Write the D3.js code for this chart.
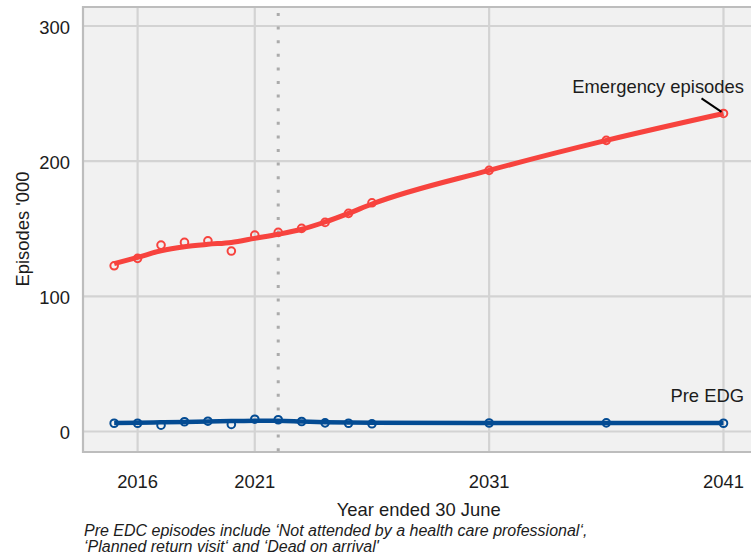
<!DOCTYPE html>
<html>
<head>
<meta charset="utf-8">
<script src="https://cdn.jsdelivr.net/npm/d3@7"></script>
<style>
  html, body { margin: 0; padding: 0; background: #ffffff; }
  svg { display: block; font-family: "Liberation Sans", Arial, Helvetica, sans-serif; }
</style>
</head>
<body>
<svg id="chart" width="751" height="559"></svg>
<script>
// ---- data ----
const years = [2015, 2016, 2017, 2018, 2019, 2020, 2021, 2022, 2023, 2024, 2025, 2026, 2031, 2036, 2041];
const emergencyPoints = [122.6, 128.1, 137.9, 139.9, 141.1, 133.5, 145.3, 147.3, 150.3, 154.7, 161.4, 169.2, 193.2, 215.4, 235.3];
const emergencyTrend  = [124.2, 128.8, 133.7, 136.7, 138.5, 139.9, 142.9, 145.9, 149.6, 155.0, 161.4, 168.3, 193.2, 215.4, 235.3];
const preEdgPoints = [6.1, 6.1, 4.7, 7.2, 7.6, 5.2, 9.1, 8.7, 7.4, 6.4, 6.1, 5.7, 6.3, 6.4, 6.1];
const preEdgTrend  = [6.3, 6.5, 6.8, 7.1, 7.4, 7.7, 8.0, 7.9, 7.4, 6.9, 6.6, 6.4, 6.2, 6.2, 6.2];
const xTicks = [2016, 2021, 2031, 2041];
const yTicks = [0, 100, 200, 300];
const cutoverYear = 2022;
const seriesLabels = ["Emergency episodes", "Pre EDG"];
const xTitle = "Year ended 30 June";
const yTitle = "Episodes '000";
const footnote = ["Pre EDC episodes include \u2018Not attended by a health care professional\u2018,",
                  "\u2018Planned return visit\u2018 and \u2018Dead on arrival'"];

// ---- layout ----
const svg = d3.select("#chart");
const x = d3.scaleLinear().domain([2016, 2041]).range([137.6, 723.5]);
const y = d3.scaleLinear().domain([0, 300]).range([431.5, 26]);
const panel = { left: 83, top: 7, right: 770, bottom: 452 };

const red = "#F7433E";
const blue = "#034B93";
const textCol = "#1c1c1c";
const fs = 18.4;

// panel background
svg.append("rect")
  .attr("x", panel.left).attr("y", panel.top)
  .attr("width", panel.right - panel.left).attr("height", panel.bottom - panel.top)
  .attr("fill", "#F1F1F1");

// gridlines
const grid = svg.append("g");
grid.selectAll("line.h").data(yTicks).join("line")
  .attr("x1", panel.left).attr("x2", panel.right)
  .attr("y1", d => y(d)).attr("y2", d => y(d))
  .attr("stroke", "#D3D3D3").attr("stroke-width", 2.2);
grid.selectAll("line.v").data(xTicks).join("line")
  .attr("y1", panel.top).attr("y2", panel.bottom)
  .attr("x1", d => x(d)).attr("x2", d => x(d))
  .attr("stroke", "#D3D3D3").attr("stroke-width", 2.2);

// panel border (left, top, bottom)
svg.append("path")
  .attr("d", `M${panel.right},${panel.top}H${panel.left}V${panel.bottom}H${panel.right}`)
  .attr("fill", "none").attr("stroke", "#BDBDBD").attr("stroke-width", 2.2);

// cutover dotted line
svg.append("line")
  .attr("x1", x(cutoverYear)).attr("x2", x(cutoverYear))
  .attr("y1", panel.top + 6).attr("y2", panel.bottom)
  .attr("stroke", "#ABABAB").attr("stroke-width", 3)
  .attr("stroke-dasharray", "3,10.6");

// lines
const line = d3.line().x(d => x(d[0])).y(d => y(d[1])).curve(d3.curveMonotoneX);
svg.append("path").datum(years.map((yr, i) => [yr, preEdgTrend[i]]))
  .attr("d", line).attr("fill", "none").attr("stroke", blue).attr("stroke-width", 4.5);
svg.append("path").datum(years.map((yr, i) => [yr, emergencyTrend[i]]))
  .attr("d", line).attr("fill", "none").attr("stroke", red).attr("stroke-width", 5);

// points
svg.append("g").selectAll("circle").data(years.map((yr, i) => [yr, preEdgPoints[i]])).join("circle")
  .attr("cx", d => x(d[0])).attr("cy", d => y(d[1])).attr("r", 3.8)
  .attr("fill", "none").attr("stroke", blue).attr("stroke-width", 2);
svg.append("g").selectAll("circle").data(years.map((yr, i) => [yr, emergencyPoints[i]])).join("circle")
  .attr("cx", d => x(d[0])).attr("cy", d => y(d[1])).attr("r", 3.8)
  .attr("fill", "none").attr("stroke", red).attr("stroke-width", 2);

// y tick labels
svg.append("g").selectAll("text").data(yTicks).join("text")
  .attr("x", 70).attr("y", d => y(d) + 7.8)
  .attr("text-anchor", "end").attr("font-size", fs).attr("fill", textCol)
  .text(d => d);

// x tick labels
svg.append("g").selectAll("text").data(xTicks).join("text")
  .attr("x", d => x(d)).attr("y", 488)
  .attr("text-anchor", "middle").attr("font-size", fs).attr("fill", textCol)
  .text(d => d);

// axis titles
svg.append("text").attr("x", 418.7).attr("y", 516).attr("text-anchor", "middle")
  .attr("font-size", fs).attr("fill", textCol).text(xTitle);
svg.append("text").attr("transform", "translate(28.5,229) rotate(-90)")
  .attr("text-anchor", "middle").attr("font-size", fs).attr("fill", textCol).text(yTitle);

// series labels
const lastE = emergencyPoints[emergencyPoints.length - 1];
svg.append("line")
  .attr("x1", x(2041) - 22).attr("y1", y(lastE) - 15)
  .attr("x2", x(2041) - 2).attr("y2", y(lastE) - 1.5)
  .attr("stroke", "#000").attr("stroke-width", 2);
svg.append("text").attr("x", 744).attr("y", 93).attr("text-anchor", "end")
  .attr("font-size", fs).attr("fill", textCol).text(seriesLabels[0]);
svg.append("text").attr("x", 744).attr("y", 402).attr("text-anchor", "end")
  .attr("font-size", fs).attr("fill", textCol).text(seriesLabels[1]);

// footnote
svg.append("g").selectAll("text").data(footnote).join("text")
  .attr("x", 84).attr("y", (d, i) => 536 + i * 15.5)
  .attr("font-size", 16).attr("font-style", "italic").attr("fill", textCol)
  .text(d => d);
</script>
</body>
</html>
